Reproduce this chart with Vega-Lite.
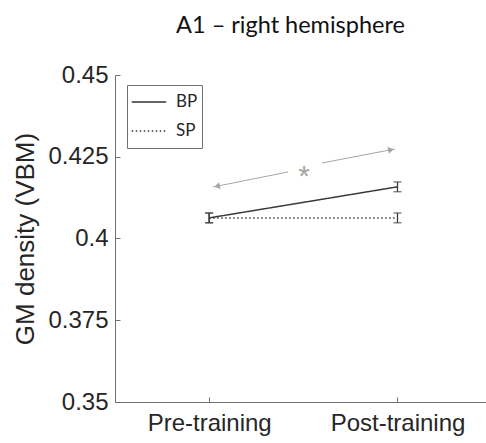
{
  "$schema": "https://vega.github.io/schema/vega-lite/v6.json",
  "width": 371,
  "height": 327,
  "autosize": {"type": "none"},
  "padding": {"left": 115, "top": 75, "right": 0, "bottom": 41},
  "background": "white",
  "config": {"view": {"stroke": null}, "font": "Arial"},
  "title": {"text": "A1 – right hemisphere", "font": "Lato", "fontSize": 23.5, "fontWeight": "normal", "color": "#111111", "anchor": "middle", "dx": -10, "offset": 26},
  "datasets": {
    "means": [
      {"group": "BP", "t": 1, "v": 0.4063, "lo": 0.4048, "hi": 0.4078},
      {"group": "BP", "t": 2, "v": 0.4158, "lo": 0.4143, "hi": 0.4173},
      {"group": "SP", "t": 1, "v": 0.4063, "lo": 0.4048, "hi": 0.4078},
      {"group": "SP", "t": 2, "v": 0.4063, "lo": 0.4048, "hi": 0.4078}
    ],
    "arrow": [
      {"seg": "a", "t": 1.02, "v": 0.41575},
      {"seg": "a", "t": 1.4187, "v": 0.42034},
      {"seg": "b", "t": 1.599, "v": 0.42309},
      {"seg": "b", "t": 1.987, "v": 0.42737}
    ],
    "heads": [
      {"side": "left", "t": 1.0416, "v": 0.41599, "shape": "triangle-left"},
      {"side": "right", "t": 1.9656, "v": 0.42713, "shape": "triangle-right"}
    ],
    "star": [
      {"t": 1.5036, "v": 0.42125, "label": "*"}
    ]
  },
  "encoding": {
    "x": {
      "field": "t", "type": "quantitative",
      "scale": {"domain": [0.5, 2.47], "nice": false, "zero": false},
      "axis": {
        "values": [1, 2],
        "labelExpr": "datum.value == 1 ? 'Pre-training' : 'Post-training'",
        "title": null, "grid": false,
        "domainColor": "#707070", "tickColor": "#707070", "tickSize": -5,
        "labelPadding": 14, "labelFontSize": 24, "labelColor": "#262626",
        "labelFont": "Arial", "labelFlush": false
      }
    }
  },
  "layer": [
    {
      "data": {"name": "means"},
      "mark": {"type": "line", "strokeWidth": 1.5, "color": "#3a3a3a"},
      "encoding": {
        "y": {
          "field": "v", "type": "quantitative",
          "title": "GM density (VBM)",
          "scale": {"domain": [0.35, 0.45], "nice": false, "zero": false},
          "axis": {
            "values": [0.35, 0.375, 0.4, 0.425, 0.45],
            "format": ".3~f", "grid": false,
            "domainColor": "#707070", "tickColor": "#707070", "tickSize": -5,
            "labelPadding": 12, "labelFontSize": 24, "labelColor": "#262626",
            "labelFont": "Arial",
            "titleFont": "Arial", "titleFontSize": 26, "titleFontWeight": "normal",
            "titleColor": "#262626", "titlePadding": 9
          }
        },
        "detail": {"field": "group"},
        "strokeDash": {
          "field": "group", "type": "nominal",
          "scale": {"domain": ["BP", "SP"], "range": [[1, 0], [1.5, 2.5]]},
          "legend": {
            "title": null, "orient": "none", "legendX": 12, "legendY": 10,
            "strokeColor": "#707070", "fillColor": "white", "padding": 4,
            "symbolType": "stroke", "symbolSize": 1190, "symbolStrokeWidth": 1.3,
            "symbolStrokeColor": "#333333", "labelOffset": 9,
            "clipHeight": 26, "rowPadding": 3,
            "labelFont": "Lato", "labelFontSize": 17, "labelColor": "#262626",
            "labelExpr": "datum.label + '\u2002\u2002\u2002\u2002'"
          }
        }
      }
    },
    {
      "data": {"name": "means"},
      "mark": {"type": "rule", "strokeWidth": 1.3, "color": "#3a3a3a"},
      "encoding": {
        "y": {"field": "lo", "type": "quantitative", "title": "GM density (VBM)"},
        "y2": {"field": "hi"}
      }
    },
    {
      "data": {"name": "means"},
      "mark": {"type": "tick", "orient": "horizontal", "size": 8, "thickness": 1.3, "color": "#3a3a3a"},
      "encoding": {
        "y": {"field": "lo", "type": "quantitative", "title": "GM density (VBM)"}
      }
    },
    {
      "data": {"name": "means"},
      "mark": {"type": "tick", "orient": "horizontal", "size": 8, "thickness": 1.3, "color": "#3a3a3a"},
      "encoding": {
        "y": {"field": "hi", "type": "quantitative", "title": "GM density (VBM)"}
      }
    },
    {
      "data": {"name": "arrow"},
      "mark": {"type": "line", "strokeWidth": 1, "color": "#a6a6a6"},
      "encoding": {
        "y": {"field": "v", "type": "quantitative", "title": "GM density (VBM)"},
        "detail": {"field": "seg"}
      }
    },
    {
      "data": {"name": "heads"},
      "mark": {"type": "point", "filled": true, "size": 45, "angle": 348, "color": "#a6a6a6", "opacity": 1},
      "encoding": {
        "y": {"field": "v", "type": "quantitative", "title": "GM density (VBM)"},
        "shape": {"field": "shape", "type": "nominal", "scale": null, "legend": null}
      }
    },
    {
      "data": {"name": "star"},
      "mark": {"type": "text", "fontSize": 30, "color": "#a6a6a6", "baseline": "middle", "dy": 8, "font": "Arial"},
      "encoding": {
        "y": {"field": "v", "type": "quantitative", "title": "GM density (VBM)"},
        "text": {"field": "label"}
      }
    }
  ]
}
